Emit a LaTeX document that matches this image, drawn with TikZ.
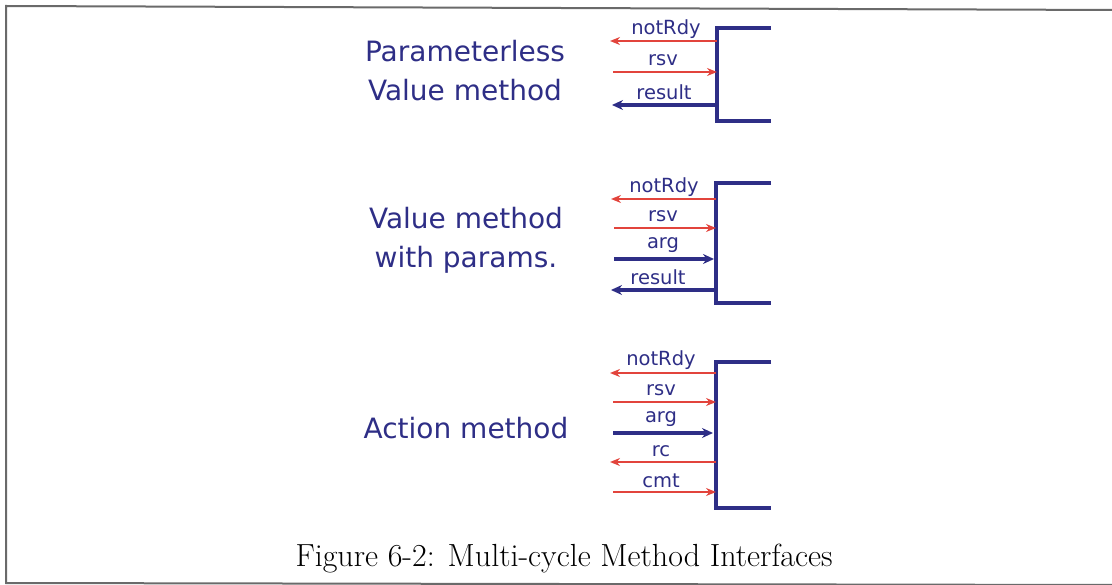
\documentclass[tikz,border=0pt]{standalone}
\usepackage{fontspec}
\setsansfont{DejaVu Sans}
\usetikzlibrary{arrows.meta}
\definecolor{navy}{HTML}{2E2E86}
\definecolor{sigred}{HTML}{E2443C}
\definecolor{framegray}{HTML}{6A6A6A}
\begin{document}
\begin{tikzpicture}[x=1pt,y=-1pt,
  title/.style={font=\sffamily\fontsize{28}{39}\selectfont, text=navy, align=center, inner sep=0pt},
  sig/.style={font=\sffamily\fontsize{19.5}{21}\selectfont, text=navy, inner sep=0pt},
  redline/.style={draw=sigred, line width=1.7pt, -{Stealth[length=10pt,width=8pt]}},
  blueline/.style={draw=navy, line width=3.4pt, -{Stealth[length=11pt,width=10pt]}},
  bar/.style={draw=navy, line width=3.6pt},
  framestyle/.style={draw=framegray, line width=2pt}]
\useasboundingbox (0,0) rectangle (1112,585);
% frame
\coordinate (fTR) at (1114,10);
\coordinate (fTL) at (6,6);
\coordinate (fBL) at (6,583);
\coordinate (fBR) at (1114,585);
\draw[framestyle] (fTR) -- (fTL) -- (fBL) -- (fBR);

% ---------- block 1 ----------
\node[title] (t1) at (465,71) {Parameterless\\Value method};
\coordinate (b1t) at (717,28);
\coordinate (b1b) at (717,121);
\coordinate (b1tr) at (771,28);
\coordinate (b1br) at (771,121);
\draw[bar] (b1tr) -- (b1t) -- (b1b) -- (b1br);
\coordinate (b1n) at (717,41);  \coordinate (b1nL) at (610,41);
\coordinate (b1r) at (717,72);  \coordinate (b1rL) at (613,72);
\coordinate (b1s) at (716,105); \coordinate (b1sL) at (612,105);
\draw[redline] (b1n) -- (b1nL);
\draw[redline] (b1rL) -- (b1r);
\draw[blueline] (b1s) -- (b1sL);
\node[sig] (l1n) at (666,29) {notRdy};
\node[sig] (l1r) at (663,60) {rsv};
\node[sig] (l1s) at (664,92) {result};

% ---------- block 2 ----------
\node[title] (t2) at (466,240) {Value method\\with params.};
\coordinate (b2t) at (716,183);
\coordinate (b2b) at (716,303);
\coordinate (b2tr) at (771,183);
\coordinate (b2br) at (771,303);
\draw[bar] (b2tr) -- (b2t) -- (b2b) -- (b2br);
\coordinate (b2n) at (716,199); \coordinate (b2nL) at (611,199);
\coordinate (b2r) at (716,228); \coordinate (b2rL) at (614,228);
\coordinate (b2a) at (714,259); \coordinate (b2aL) at (614,259);
\coordinate (b2s) at (715,290); \coordinate (b2sL) at (611,290);
\draw[redline] (b2n) -- (b2nL);
\draw[redline] (b2rL) -- (b2r);
\draw[blueline] (b2aL) -- (b2a);
\draw[blueline] (b2s) -- (b2sL);
\node[sig] (l2n) at (664,187) {notRdy};
\node[sig] (l2r) at (663,216) {rsv};
\node[sig] (l2a) at (663,245) {arg};
\node[sig] (l2s) at (658,277) {result};

% ---------- block 3 ----------
\node[title] (t3) at (466,428) {Action method};
\coordinate (b3t) at (716,362);
\coordinate (b3b) at (716,508);
\coordinate (b3tr) at (771,362);
\coordinate (b3br) at (771,508);
\draw[bar] (b3tr) -- (b3t) -- (b3b) -- (b3br);
\coordinate (b3n) at (716,373); \coordinate (b3nL) at (610,373);
\coordinate (b3r) at (716,402); \coordinate (b3rL) at (613,402);
\coordinate (b3a) at (713,433); \coordinate (b3aL) at (613,433);
\coordinate (b3c) at (716,462); \coordinate (b3cL) at (610,462);
\coordinate (b3m) at (716,492); \coordinate (b3mL) at (613,492);
\draw[redline] (b3n) -- (b3nL);
\draw[redline] (b3rL) -- (b3r);
\draw[blueline] (b3aL) -- (b3a);
\draw[redline] (b3c) -- (b3cL);
\draw[redline] (b3mL) -- (b3m);
\node[sig] (l3n) at (661,360) {notRdy};
\node[sig] (l3r) at (661,390) {rsv};
\node[sig] (l3a) at (661,419) {arg};
\node[sig] (l3c) at (661,451) {rc};
\node[sig] (l3m) at (661,481) {cmt};

% caption
\node[font=\fontsize{32}{36}\selectfont, text=black, inner sep=0pt] (cap) at (564,559) {Figure 6-2: Multi-cycle Method Interfaces};
\end{tikzpicture}
\end{document}
